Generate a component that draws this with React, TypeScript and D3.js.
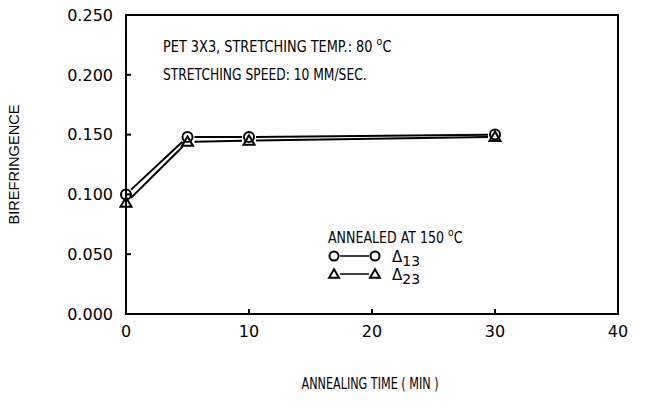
import React from "react";
import * as d3 from "d3";

const times = [0, 5, 10, 30];
const delta13 = [0.100, 0.148, 0.148, 0.150];
const delta23 = [0.093, 0.144, 0.145, 0.148];
const xTicks = [0, 10, 20, 30, 40];
const yTicks = [0, 0.05, 0.1, 0.15, 0.2, 0.25];

const W = 650, H = 410;
const L = 126, R = 618, T = 15, B = 314;
const FONT = "'DejaVu Sans', sans-serif";

const x = d3.scaleLinear().domain([0, 40]).range([L, R]);
const y = d3.scaleLinear().domain([0, 0.25]).range([B, T]);

function segs(vals: number[], gap: number) {
  const out: JSX.Element[] = [];
  for (let i = 0; i < vals.length - 1; i++) {
    const x1 = x(times[i]), y1 = y(vals[i]);
    const x2 = x(times[i + 1]), y2 = y(vals[i + 1]);
    const dx = x2 - x1, dy = y2 - y1;
    const len = Math.hypot(dx, dy);
    const ux = dx / len, uy = dy / len;
    out.push(
      <line key={i} x1={x1 + ux * gap} y1={y1 + uy * gap} x2={x2 - ux * gap} y2={y2 - uy * gap}
        stroke="#000" strokeWidth={2} />
    );
  }
  return out;
}

function tri(cx: number, cy: number, s: number) {
  const h = s * 0.9;
  return `M${cx},${cy - h * 0.6} L${cx + s * 0.55},${cy + h * 0.45} L${cx - s * 0.55},${cy + h * 0.45} Z`;
}

export default function App() {
  return (
    <svg width={W} height={H} style={{ position: "absolute", left: 0, top: 0, background: "#fff" }}>
      <rect x={0} y={0} width={W} height={H} fill="#fff" />
      <rect x={L} y={T} width={R - L} height={B - T} fill="none" stroke="#000" strokeWidth={2} />
      {yTicks.map((t) => (
        <g key={"y" + t}>
          <line x1={L} x2={L + 5} y1={y(t)} y2={y(t)} stroke="#000" strokeWidth={2} />
          <text x={L - 13} y={y(t)} dy="0.36em" textAnchor="end" fontFamily={FONT} fontSize={16}>
            {d3.format(".3f")(t)}
          </text>
        </g>
      ))}
      {xTicks.map((t) => (
        <g key={"x" + t}>
          <line x1={x(t)} x2={x(t)} y1={B} y2={B - 5} stroke="#000" strokeWidth={2} />
          <text x={x(t)} y={B + 23} textAnchor="middle" fontFamily={FONT} fontSize={16}>{t}</text>
        </g>
      ))}
      <text x={(L + R) / 2 - 2} y={389} textAnchor="middle" fontFamily={FONT} fontSize={15}
        textLength={137} lengthAdjust="spacingAndGlyphs">ANNEALING TIME ( MIN )</text>
      <text transform={`translate(19,${(T + B) / 2}) rotate(-90)`} textAnchor="middle" fontFamily="'Liberation Sans', Arial, sans-serif" fontSize={14.5}
        textLength={120} lengthAdjust="spacingAndGlyphs">BIREFRINGENCE</text>

      {segs(delta13, 7)}
      {segs(delta23, 7)}
      {times.map((t, i) => (
        <circle key={"c" + i} cx={x(t)} cy={y(delta13[i])} r={5} fill="none" stroke="#000" strokeWidth={2} />
      ))}
      {times.map((t, i) => (
        <path key={"t" + i} d={tri(x(t), y(delta23[i]), 10)} fill="none" stroke="#000" strokeWidth={2} />
      ))}

      <text transform="translate(163,52) scale(0.86,1)" fontFamily={FONT} fontSize={15}>
        PET 3X3, STRETCHING TEMP.: 80 <tspan dy={-7} fontSize={11}>o</tspan><tspan dy={7}>C</tspan>
      </text>
      <text transform="translate(163,80) scale(0.82,1)" fontFamily={FONT} fontSize={15}>STRETCHING SPEED: 10 MM/SEC.</text>

      <text transform="translate(328,243) scale(0.84,1)" fontFamily={FONT} fontSize={15}>
        ANNEALED AT 150 <tspan dy={-7} fontSize={11}>o</tspan><tspan dy={7}>C</tspan>
      </text>
      <circle cx={334} cy={256} r={4.5} fill="none" stroke="#000" strokeWidth={2} />
      <line x1={340} x2={369} y1={256} y2={256} stroke="#000" strokeWidth={1.5} />
      <circle cx={375} cy={256} r={4.5} fill="none" stroke="#000" strokeWidth={2} />
      <text x={392} y={262} fontFamily={FONT} fontSize={15}>Δ<tspan dy={4} fontSize={14}>13</tspan></text>
      <path d={tri(334, 274, 9)} fill="none" stroke="#000" strokeWidth={2} />
      <line x1={340} x2={369} y1={274} y2={274} stroke="#000" strokeWidth={1.5} />
      <path d={tri(375, 274, 9)} fill="none" stroke="#000" strokeWidth={2} />
      <text x={392} y={280} fontFamily={FONT} fontSize={15}>Δ<tspan dy={4} fontSize={14}>23</tspan></text>
    </svg>
  );
}
